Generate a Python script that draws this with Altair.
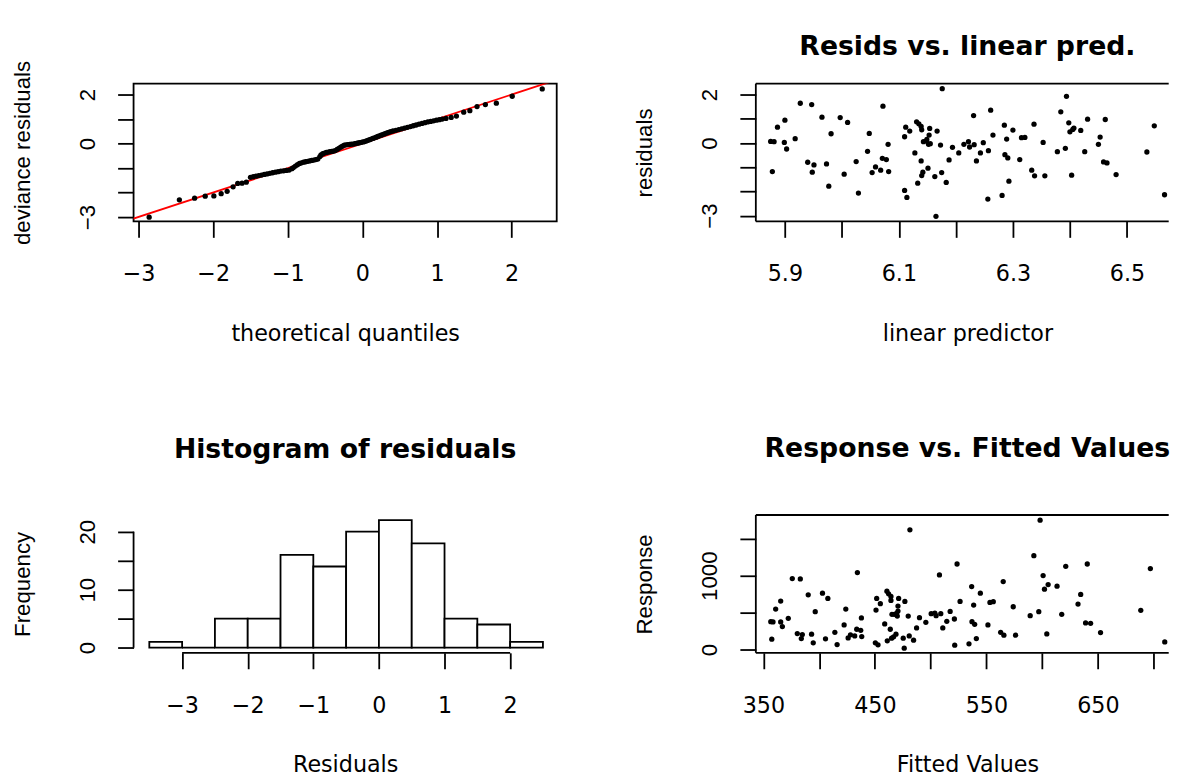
import json
import altair as alt
import pandas as pd

# ---------------- data ----------------
# Panel 1: QQ plot of deviance residuals
qq_theoretical = [
    -2.858, -2.453, -2.249, -2.107, -1.991, -1.893, -1.813, -1.733, -1.671, -1.613, -1.556,
    -1.500, -1.463, -1.426, -1.389, -1.352, -1.315, -1.278, -1.241, -1.204, -1.167, -1.130,
    -1.093, -1.056, -1.019, -0.982, -0.945,
    -0.925, -0.898, -0.870, -0.843, -0.816, -0.789, -0.761, -0.734, -0.707, -0.680, -0.652,
    -0.625, -0.598, -0.570,
    -0.555, -0.531, -0.507, -0.483, -0.459, -0.435, -0.411, -0.387, -0.363, -0.339, -0.315,
    -0.291, -0.267, -0.243, -0.219, -0.195, -0.171, -0.147, -0.123, -0.100,
    -0.080, -0.058, -0.036, -0.014, 0.008, 0.030, 0.052, 0.074, 0.096, 0.118, 0.140, 0.162,
    0.184, 0.206, 0.228, 0.250, 0.272, 0.294, 0.316, 0.338, 0.360, 0.382,
    0.410, 0.449, 0.488, 0.526, 0.565, 0.604, 0.643, 0.682, 0.720, 0.759, 0.798, 0.837,
    0.876, 0.914, 0.953, 0.992, 1.031, 1.070,
    1.120, 1.190, 1.260,
    1.358, 1.440, 1.536, 1.648, 1.795, 2.008, 2.410,
]
qq_deviance = [
    -3.010, -2.300, -2.230, -2.150, -2.140, -2.050, -1.950, -1.770, -1.630, -1.620, -1.580,
    -1.380, -1.357, -1.333, -1.310, -1.287, -1.263, -1.240, -1.217, -1.194, -1.171, -1.148,
    -1.127, -1.113, -1.099, -1.085, -1.026,
    -0.982, -0.923, -0.863, -0.813, -0.786, -0.763, -0.745, -0.728, -0.710, -0.693, -0.674,
    -0.655, -0.636, -0.535,
    -0.468, -0.418, -0.391, -0.363, -0.349, -0.335, -0.322, -0.309, -0.287, -0.242, -0.198,
    -0.153, -0.110, -0.066, -0.053, -0.045, -0.037, -0.029, -0.021, -0.007,
    0.007, 0.021, 0.036, 0.051, 0.065, 0.080, 0.106, 0.131, 0.157, 0.183, 0.208, 0.234,
    0.260, 0.286, 0.312, 0.338, 0.364, 0.390, 0.416, 0.442, 0.468, 0.489,
    0.511, 0.541, 0.571, 0.601, 0.631, 0.661, 0.693, 0.725, 0.756, 0.788, 0.819, 0.851,
    0.880, 0.903, 0.927, 0.951, 0.974, 0.997,
    1.024, 1.063, 1.120,
    1.280, 1.340, 1.510, 1.590, 1.645, 1.930, 2.230,
]
qq_reference = [-3.5, 3.0]          # reference line y = x

# Panel 2: residuals vs linear predictor
lin_pred = [
    5.875, 5.881, 5.878, 5.887, 5.899, 5.900, 5.903, 5.918, 5.927, 5.940, 5.947, 5.948,
    5.951, 5.965, 5.973, 5.977, 5.981, 5.997, 6.004, 6.010, 6.025, 6.029, 6.045, 6.048,
    6.053, 6.059, 6.068, 6.071, 6.072, 6.078, 6.081, 6.082, 6.110, 6.110, 6.112, 6.114,
    6.119, 6.128, 6.131, 6.133, 6.135, 6.139, 6.140, 6.139, 6.140, 6.142, 6.143, 6.148,
    6.149, 6.151, 6.152, 6.154, 6.153, 6.155, 6.163, 6.165, 6.167, 6.173, 6.175, 6.176,
    6.183, 6.188, 6.194, 6.205, 6.214, 6.222, 6.224, 6.231, 6.232, 6.236, 6.243, 6.248,
    6.256, 6.257, 6.261, 6.265, 6.281, 6.285, 6.286, 6.289, 6.291, 6.293, 6.300, 6.312,
    6.315, 6.321, 6.333, 6.337, 6.338, 6.353, 6.356, 6.378, 6.384, 6.392, 6.394, 6.398,
    6.400, 6.403, 6.405, 6.407, 6.419, 6.426, 6.431, 6.450, 6.453, 6.459, 6.462, 6.465,
    6.481, 6.535, 6.548, 6.566,
]
resid = [
    0.068, 0.055, -1.177, 0.657, 0.027, 0.945, -0.246, 0.178, 1.643, -0.794, 1.588, -1.205,
    -0.903, 1.068, -0.862, -1.780, 0.383, 1.054, -1.287, 0.849, -0.767, -2.067, -0.342, 0.397,
    -1.218, -0.986, -1.123, -0.630, 1.520, -0.684, -0.055, -1.177, -1.958, 0.260, 0.657, -2.245,
    0.493, -0.411, 0.876, -1.656, 0.794, 0.684, 0.548, -0.739, -1.342, -1.205, 0.055, 0.082,
    0.151, -1.040, -0.055, 0.602, 0.329, -0.027, -1.383, -3.025, 0.493, -0.082, -1.218, 2.245,
    -1.629, -0.698, -0.178, -0.411, -0.055, 0.055, -0.164, 1.136, -0.068, -0.739, -0.411, 0.014,
    -2.313, -0.315, 1.355, 0.329, -2.163, 0.739, -0.479, 0.164, -0.616, -1.574, 0.534, -0.684,
    0.219, 0.233, -1.123, 0.780, -1.355, 0.027, -1.355, -0.356, 1.287, -0.219, 1.930, 0.835,
    0.465, -1.328, 0.561, 0.616, 0.520, -0.356, 0.986, -0.055, 0.246, -0.780, 0.972, -0.821,
    -1.300, -0.370, 0.712, -2.136,
]

# Panel 3: histogram of residuals
hist_bin_start = [-3.5, -3.0, -2.5, -2.0, -1.5, -1.0, -0.5, 0.0, 0.5, 1.0, 1.5, 2.0]
hist_bin_end = [-3.0, -2.5, -2.0, -1.5, -1.0, -0.5, 0.0, 0.5, 1.0, 1.5, 2.0, 2.5]
hist_count = [1, 0, 5, 5, 16, 14, 20, 22, 18, 5, 4, 1]

# Panel 4: response vs fitted values
fitted = [
    356.6, 358.6, 357.5, 361.0, 365.5, 365.5, 367.0, 372.3, 375.9, 380.4, 383.1, 384.0,
    384.9, 390.2, 393.2, 394.7, 396.5, 403.0, 405.7, 407.8, 414.1, 416.1, 422.4, 423.9,
    426.0, 428.1, 431.9, 433.7, 434.3, 437.3, 438.2, 437.9, 450.4, 451.6, 451.0, 452.8,
    454.9, 458.8, 460.8, 461.1, 462.3, 463.8, 464.4, 464.4, 465.0, 465.3, 466.8, 467.4,
    468.9, 469.5, 470.1, 470.7, 470.7, 471.3, 475.4, 476.3, 476.9, 479.9, 480.8, 481.4,
    484.7, 487.4, 490.0, 495.7, 500.5, 503.8, 504.9, 507.9, 509.1, 510.9, 514.5, 517.5,
    521.3, 521.6, 523.7, 526.4, 534.4, 536.8, 537.1, 538.6, 539.5, 541.0, 544.6, 551.4,
    553.2, 556.2, 562.8, 565.7, 565.1, 574.1, 576.2, 589.3, 592.6, 597.0, 598.2, 600.9,
    602.1, 604.2, 605.4, 613.4, 617.6, 621.2, 632.2, 634.6, 639.0, 640.5, 643.5, 652.4,
    688.5, 697.1, 710.0,
]
response = [
    377, 373, 139, 548, 656, 373, 310, 422, 961, 216, 956, 148,
    202, 741, 207, 90, 512, 763, 144, 691, 233, 67, 332, 548,
    157, 198, 184, 274, 1042, 260, 175, 427, 90, 691, 534, 63,
    620, 346, 790, 117, 754, 274, 718, 665, 153, 476, 171, 476,
    207, 489, 453, 588, 521, 691, 153, 18, 651, 453, 184, 1621,
    126, 292, 431, 368, 485, 494, 458, 1010, 485, 292, 382, 516,
    413, 58, 1158, 651, 76, 853, 377, 602, 341, 148, 763, 332,
    638, 647, 233, 193, 920, 579, 193, 458, 1271, 512, 1751, 1001,
    817, 211, 880, 858, 476, 1127, 615, 745, 359, 1158, 355, 229,
    530, 1096, 103,
]

# axis ticks and which of them carry a label (R drops overlapping ones)
qq_x_ticks = [-3, -2, -1, 0, 1, 2]
qq_y_ticks = [-3, -2, -1, 0, 1, 2]
qq_y_shown = [-3, 0, 2]
lp_ticks = [5.9, 6.0, 6.1, 6.2, 6.3, 6.4, 6.5]
lp_shown = [5.9, 6.1, 6.3, 6.5]
hist_x_ticks = [-3, -2, -1, 0, 1, 2]
hist_y_ticks = [0, 5, 10, 15, 20]
hist_y_shown = [0, 10, 20]
fit_ticks = [350, 400, 450, 500, 550, 600, 650, 700]
fit_shown = [350, 450, 550, 650]
resp_ticks = [0, 500, 1000, 1500]
resp_shown = [0, 1000]

# ---------------- styling ----------------
W = 424.6          # left column plot width
WR = 414.3         # right column plot width (its right edge runs off the page)
H = 138.3
H_FONT = "DejaVu Sans"
V_FONT = "Liberation Sans"
FS = 22.3
TFS = 26.8
LW = 1.8
PT = 28
BOX = alt.ViewBackground(stroke="black", strokeWidth=LW, fill="white")
NOBOX = alt.ViewBackground(stroke="transparent", fill="white")

QQ_XD = [-3.067, 2.604]
QQ_YD = [-3.18, 2.448]
LP_XD = [5.849, 6.5733]
RES_YD = [-3.236, 2.456]
HI_XD = [-3.74, 2.71]
HI_YD = [-0.88, 22.88]
FI_XD = [343.2, 713.55]
RE_YD = [-45, 1822]


def shown_expr(shown):
    return f"indexof({json.dumps(shown)}, datum.value) >= 0 ? datum.label : ''"


def x_axis(title, ticks, shown, fmt):
    return alt.Axis(
        title=title, values=ticks, format=fmt, labelExpr=shown_expr(shown),
        domain=False, grid=False, ticks=True, tickSize=16, tickWidth=LW,
        tickColor="black", labelPadding=25.5, labelFont=H_FONT, labelFontSize=FS,
        labelColor="black", labelOverlap=False, labelFlush=False, labelBound=False,
        labelAlign="center", labelBaseline="top", labelAngle=0,
        titleFont=H_FONT, titleFontSize=FS, titleFontWeight="normal",
        titleColor="black", titleBaseline="alphabetic", titleAlign="center",
        titleX=W / 2, titleY=119.6,
    )


def y_axis(title, ticks, shown, fmt):
    return alt.Axis(
        title=title, values=ticks, format=fmt, labelExpr=shown_expr(shown),
        domain=False, grid=False, ticks=True, tickSize=16, tickWidth=LW,
        tickColor="black", labelPadding=23.3, labelFont=V_FONT, labelFontSize=FS,
        labelColor="black", labelOverlap=False, labelFlush=False, labelBound=False,
        labelAngle=270, labelAlign="center", labelBaseline="alphabetic",
        titleFont=V_FONT, titleFontSize=FS, titleFontWeight="normal",
        titleColor="black", titleAngle=270, titleBaseline="alphabetic",
        titleAlign="center", titleX=-104.4,
    )


def panel_title(text, offset, dx=0):
    return alt.TitleParams(
        text=text, font=H_FONT, fontSize=TFS, fontWeight="bold", color="black",
        anchor="middle", frame="group", baseline="alphabetic", offset=offset, dx=dx,
    )


def open_box(xd, yd, xs, ys, xa, ya):
    # top, bottom and left sides of the plot frame (right side is off the page)
    df = pd.DataFrame({
        "x": [xd[0], xd[0], xd[0]], "x2": [xd[1], xd[1], xd[0]],
        "y": [yd[1], yd[0], yd[0]], "y2": [yd[1], yd[0], yd[1]],
    })
    return alt.Chart(df).mark_rule(color="black", strokeWidth=LW).encode(
        x=alt.X("x:Q", scale=xs, axis=xa), x2="x2:Q",
        y=alt.Y("y:Q", scale=ys, axis=ya), y2="y2:Q")


def dots(df, x, y):
    return alt.Chart(df).mark_circle(size=PT, color="black", opacity=1, clip=True).encode(x=x, y=y)


# ---------------- panel 1: QQ ----------------
qq_df = pd.DataFrame({"q": qq_theoretical, "d": qq_deviance})
ref_df = pd.DataFrame({"q": qq_reference, "d": qq_reference})
qx = alt.X("q:Q", scale=alt.Scale(domain=QQ_XD, nice=False, zero=False),
           axis=x_axis("theoretical quantiles", qq_x_ticks, qq_x_ticks, "d"))
qy = alt.Y("d:Q", scale=alt.Scale(domain=QQ_YD, nice=False, zero=False),
           axis=y_axis("deviance residuals", qq_y_ticks, qq_y_shown, "d"))
p1 = alt.layer(
    alt.Chart(ref_df).mark_line(color="red", strokeWidth=LW, clip=True).encode(x=qx, y=qy),
    dots(qq_df, qx, qy),
).properties(width=W, height=H, view=BOX)

# ---------------- panel 2: resid vs linear predictor ----------------
lp_df = pd.DataFrame({"lp": lin_pred, "r": resid})
lxs = alt.Scale(domain=LP_XD, nice=False, zero=False)
rys = alt.Scale(domain=RES_YD, nice=False, zero=False)
lxa = x_axis("linear predictor", lp_ticks, lp_shown, ".1f")
rya = y_axis("residuals", qq_y_ticks, qq_y_shown, "d")
p2 = alt.layer(
    dots(lp_df, alt.X("lp:Q", scale=lxs, axis=lxa), alt.Y("r:Q", scale=rys, axis=rya)),
    open_box(LP_XD, RES_YD, lxs, rys, lxa, rya),
).properties(width=WR, height=H, view=NOBOX,
             title=panel_title("Resids vs. linear pred.", 1.4, (W - WR) / 2))

# ---------------- panel 3: histogram ----------------
hist_df = pd.DataFrame({"lo": hist_bin_start, "hi": hist_bin_end, "n": hist_count})
hx_scale = alt.Scale(domain=HI_XD, nice=False, zero=False)
hy_scale = alt.Scale(domain=HI_YD, nice=False, zero=False)
hxa = x_axis("Residuals", hist_x_ticks, hist_x_ticks, "d")
hya = y_axis("Frequency", hist_y_ticks, hist_y_shown, "d")
bars = alt.Chart(hist_df).mark_bar(fill="white", stroke="black", strokeWidth=LW).encode(
    x=alt.X("lo:Q", scale=hx_scale, axis=hxa),
    x2="hi:Q",
    y=alt.Y("n:Q", scale=hy_scale, axis=hya),
    y2=alt.datum(0),
)
xline_df = pd.DataFrame({"a": [min(hist_x_ticks)], "b": [max(hist_x_ticks)], "y": [HI_YD[0]]})
yline_df = pd.DataFrame({"a": [min(hist_y_ticks)], "b": [max(hist_y_ticks)], "x": [HI_XD[0]]})
xline = alt.Chart(xline_df).mark_rule(color="black", strokeWidth=LW).encode(
    x=alt.X("a:Q", scale=hx_scale, axis=hxa), x2="b:Q",
    y=alt.Y("y:Q", scale=hy_scale, axis=hya))
yline = alt.Chart(yline_df).mark_rule(color="black", strokeWidth=LW).encode(
    y=alt.Y("a:Q", scale=hy_scale, axis=hya), y2="b:Q",
    x=alt.X("x:Q", scale=hx_scale, axis=hxa))
p3 = alt.layer(bars, xline, yline).properties(
    width=W, height=H, view=NOBOX, title=panel_title("Histogram of residuals", 30))

# ---------------- panel 4: response vs fitted ----------------
fr_df = pd.DataFrame({"f": fitted, "y": response})
fxs = alt.Scale(domain=FI_XD, nice=False, zero=False)
fys = alt.Scale(domain=RE_YD, nice=False, zero=False)
fxa = x_axis("Fitted Values", fit_ticks, fit_shown, "d")
fya = y_axis("Response", resp_ticks, resp_shown, "d")
p4 = alt.layer(
    dots(fr_df, alt.X("f:Q", scale=fxs, axis=fxa), alt.Y("y:Q", scale=fys, axis=fya)),
    open_box(FI_XD, RE_YD, fxs, fys, fxa, fya),
).properties(width=WR, height=H, view=NOBOX,
             title=panel_title("Response vs. Fitted Values", 30, (W - WR) / 2))

chart = alt.concat(
    p1, p2, p3, p4, columns=2,
    spacing={"row": 293.9, "column": 199.4}, bounds="flush",
).properties(
    padding={"left": 2, "top": 23.5, "right": 0, "bottom": 0},
    background="white",
).configure_view(stroke="transparent")

chart.save("out.html", embed_options={"renderer": "svg", "actions": False})
